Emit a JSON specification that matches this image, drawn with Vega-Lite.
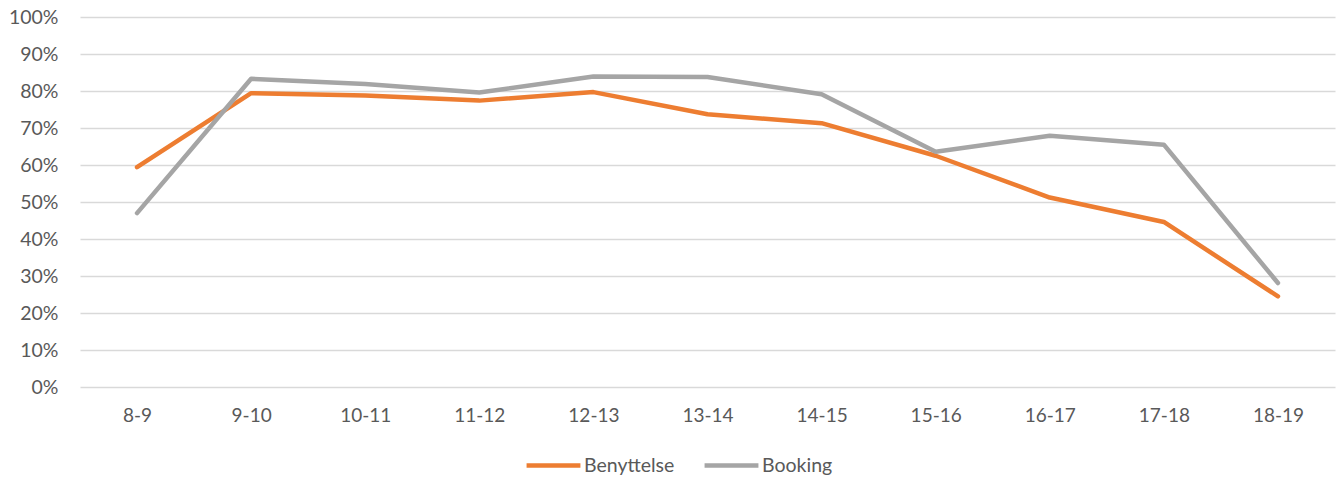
{
  "$schema": "https://vega.github.io/schema/vega-lite/v6.json",
  "autosize": "none",
  "width": 1255,
  "height": 370,
  "padding": {"left": 80, "top": 17, "right": 1, "bottom": 95},
  "background": "white",
  "config": {"view": {"stroke": null}, "font": "Lato"},
  "data": {"values": [
    {"t": "8-9", "s": "Benyttelse", "v": 0.594},
    {"t": "9-10", "s": "Benyttelse", "v": 0.794},
    {"t": "10-11", "s": "Benyttelse", "v": 0.788},
    {"t": "11-12", "s": "Benyttelse", "v": 0.774},
    {"t": "12-13", "s": "Benyttelse", "v": 0.797},
    {"t": "13-14", "s": "Benyttelse", "v": 0.737},
    {"t": "14-15", "s": "Benyttelse", "v": 0.713},
    {"t": "15-16", "s": "Benyttelse", "v": 0.625},
    {"t": "16-17", "s": "Benyttelse", "v": 0.512},
    {"t": "17-18", "s": "Benyttelse", "v": 0.446},
    {"t": "18-19", "s": "Benyttelse", "v": 0.245},
    {"t": "8-9", "s": "Booking", "v": 0.470},
    {"t": "9-10", "s": "Booking", "v": 0.833},
    {"t": "10-11", "s": "Booking", "v": 0.819},
    {"t": "11-12", "s": "Booking", "v": 0.796},
    {"t": "12-13", "s": "Booking", "v": 0.839},
    {"t": "13-14", "s": "Booking", "v": 0.838},
    {"t": "14-15", "s": "Booking", "v": 0.791},
    {"t": "15-16", "s": "Booking", "v": 0.636},
    {"t": "16-17", "s": "Booking", "v": 0.679},
    {"t": "17-18", "s": "Booking", "v": 0.655},
    {"t": "18-19", "s": "Booking", "v": 0.281}
  ]},
  "mark": {"type": "line", "strokeWidth": 4.5, "strokeCap": "round", "strokeJoin": "round"},
  "encoding": {
    "x": {
      "field": "t", "type": "ordinal", "sort": null,
      "scale": {"type": "point", "padding": 0.5},
      "axis": {"title": null, "labelAngle": 0, "domain": false, "ticks": false, "grid": false,
               "labelFont": "Lato", "labelFontSize": 19, "labelColor": "#595959", "labelPadding": 19}
    },
    "y": {
      "field": "v", "type": "quantitative",
      "scale": {"domain": [0, 1], "nice": false},
      "axis": {"title": null, "format": ".0%", "values": [0,0.1,0.2,0.3,0.4,0.5,0.6,0.7,0.8,0.9,1],
               "labelOverlap": false,
               "domain": false, "ticks": false, "gridColor": "#D9D9D9", "gridWidth": 1.5,
               "labelFont": "Lato", "labelFontSize": 19.5, "labelColor": "#595959", "labelPadding": 22}
    },
    "color": {
      "field": "s", "type": "nominal",
      "scale": {"domain": ["Benyttelse", "Booking"], "range": ["#ED7D31", "#A5A5A5"]},
      "legend": {"title": null, "orient": "none", "legendX": 444, "legendY": 419, "direction": "horizontal",
                 "symbolType": "stroke", "symbolSize": 2900, "symbolStrokeWidth": 4.5,
                 "labelFont": "Lato", "labelFontSize": 19.5, "labelColor": "#595959", "labelOffset": 1,
                 "columnPadding": 20}
    }
  }
}
